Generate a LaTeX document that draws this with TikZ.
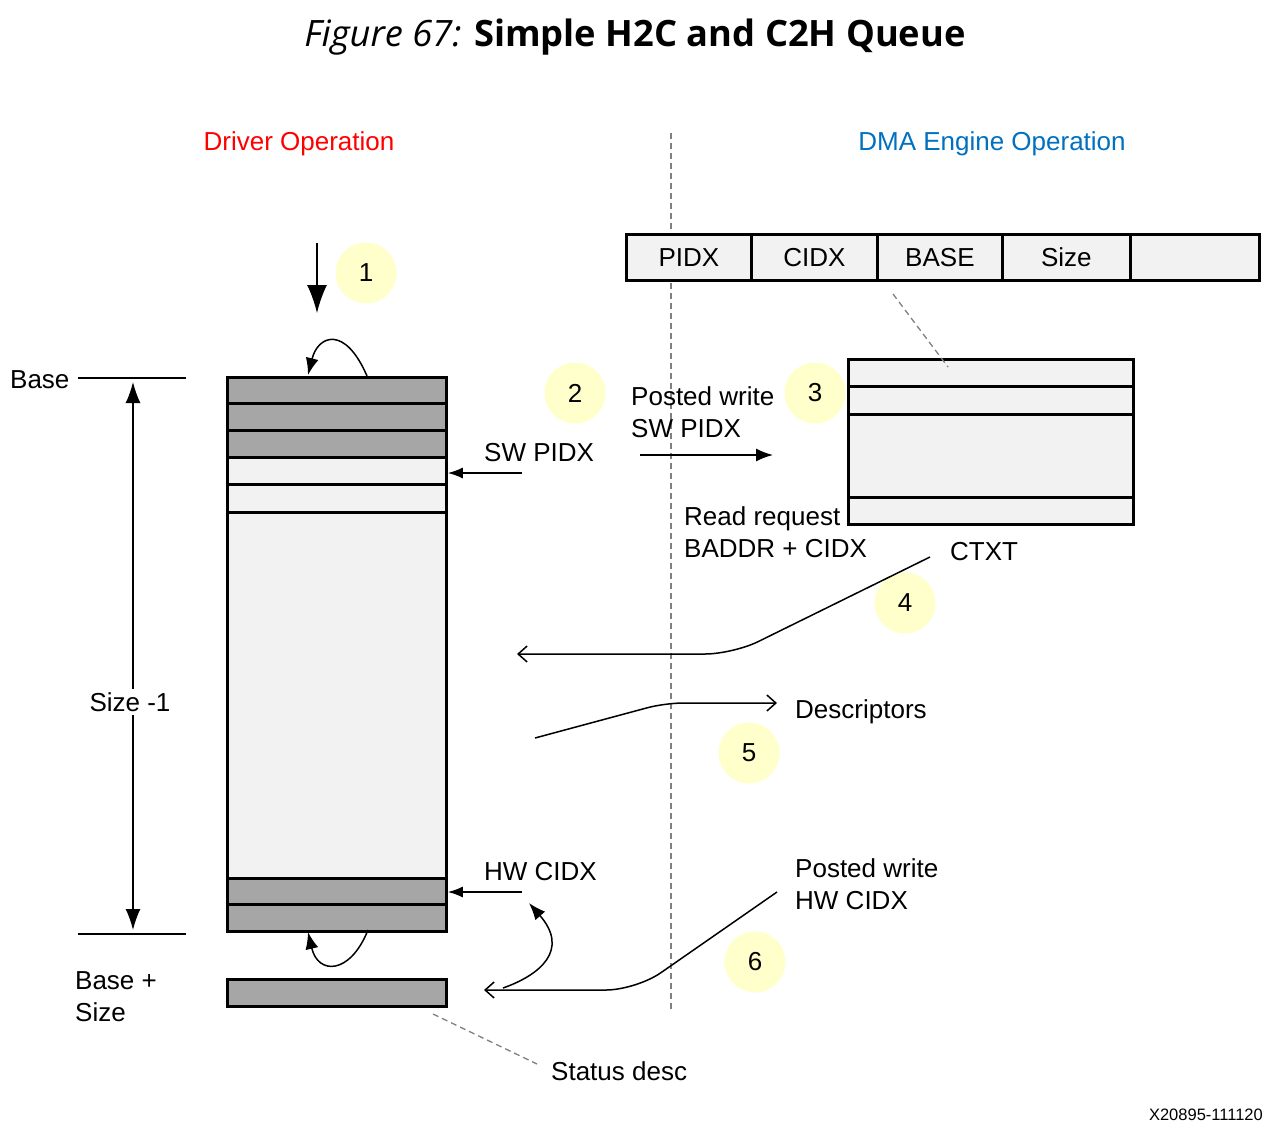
\documentclass[tikz,border=0pt]{standalone}
\usepackage{fontspec}
\setmainfont{Liberation Sans}
\newfontfamily\titlefont{Open Sans}
\usetikzlibrary{arrows.meta}
\definecolor{qgray}{RGB}{166,166,166}
\definecolor{qlight}{RGB}{242,242,242}
\definecolor{bubble}{RGB}{255,255,204}
\definecolor{dmablue}{RGB}{0,112,192}
\definecolor{dashgray}{RGB}{128,128,128}
\begin{document}
\begin{tikzpicture}[x=1pt,y=-1pt,
  cell/.style={draw=black,line width=2.8pt,anchor=north west,inner sep=0pt,minimum width=219pt,font=\fontsize{26}{30}\selectfont},
  lbl/.style={font=\fontsize{26}{30}\selectfont,inner sep=0pt,anchor=base west},
  bub/.style={circle,fill=bubble,minimum size=61pt,inner sep=0pt,font=\fontsize{26}{30}\selectfont},
  thinline/.style={line width=1.5pt},
  bigtip/.style={-{Latex[length=17pt,width=13pt]}},
  hugetip/.style={-{Latex[length=28pt,width=20pt]}},
  opentip/.style={-{Straight Barb[length=9pt,width=16pt]}},
  guide/.style={dashgray,line width=1.3pt,dash pattern=on 6pt off 4pt}
]
\useasboundingbox (0,0) rectangle (1276,1130);

% title
\node[anchor=base,inner sep=0pt,font=\titlefont\fontsize{36.3}{44}\selectfont] (title) at (635,46) {\textit{Figure 67:} \textbf{Simple H2C and C2H Queue}};

% section headings
\node[lbl,anchor=base,text=red] (drv) at (299,150) {Driver Operation};
\node[lbl,anchor=base,text=dmablue] (dma) at (992,150) {DMA Engine Operation};

% divider
\coordinate (divtop) at (671,133);
\coordinate (divbot) at (671,1010);
\draw[guide] (divtop) -- (divbot);

% queue rows
\node[cell,fill=qgray,minimum height=26pt] (q1) at (226,376) {};
\node[cell,fill=qgray,minimum height=27pt] (q2) at (226,402) {};
\node[cell,fill=qgray,minimum height=27pt] (q3) at (226,429) {};
\node[cell,fill=qlight,minimum height=27pt] (q4) at (226,456) {};
\node[cell,fill=qlight,minimum height=28pt] (q5) at (226,483) {};
\node[cell,fill=qlight,minimum height=366pt] (q6) at (226,511) {};
\node[cell,fill=qgray,minimum height=26pt] (q7) at (226,877) {};
\node[cell,fill=qgray,minimum height=27pt] (q8) at (226,903) {};
\node[cell,fill=qgray,minimum height=27pt] (qs) at (226,978) {};

% register
\node[cell,fill=qlight,minimum height=46pt,minimum width=125pt] (rp) at (625,233) {PIDX};
\node[cell,fill=qlight,minimum height=46pt,minimum width=126pt] (rc) at (750,233) {CIDX};
\node[cell,fill=qlight,minimum height=46pt,minimum width=125pt] (rb) at (876,233) {BASE};
\node[cell,fill=qlight,minimum height=46pt,minimum width=128pt] (rs) at (1001,233) {Size};
\node[cell,fill=qlight,minimum height=46pt,minimum width=129pt] (rx) at (1129,233) {};

% context box
\node[cell,fill=qlight,minimum height=27pt,minimum width=285pt] (c1) at (847,358) {};
\node[cell,fill=qlight,minimum height=28pt,minimum width=285pt] (c2) at (847,385) {};
\node[cell,fill=qlight,minimum height=83pt,minimum width=285pt] (c3) at (847,413) {};
\node[cell,fill=qlight,minimum height=27pt,minimum width=285pt] (c4) at (847,496) {};

\coordinate (ctxa) at (893,294);
\coordinate (ctxb) at (948,367);
\draw[guide] (ctxa) -- (ctxb);

% base / size markers
\node[lbl] (base) at (10,388) {Base};
\coordinate (bl1) at (78,378);
\coordinate (bl2) at (186,378);
\coordinate (bl3) at (78,934);
\coordinate (bl4) at (186,934);
\draw[thinline] (bl1) -- (bl2);
\draw[thinline] (bl3) -- (bl4);
\coordinate (sz1) at (133,382);
\coordinate (sz2) at (133,930);
\draw[thinline,{Latex[length=21pt,width=15pt]}-{Latex[length=21pt,width=15pt]}] (sz1) -- (sz2);
\node[lbl,anchor=center,fill=white,inner sep=3pt] (size) at (130,702) {Size -1};
\node[lbl] (bplus) at (75,989) {Base +};
\node[lbl] (bsize) at (75,1021) {Size};

% step 1
\coordinate (a1s) at (317,243);
\coordinate (a1e) at (317,313);
\draw[thinline,hugetip] (a1s) -- (a1e);
\node[bub] (b1) at (366,273) {1};
\coordinate (t1) at (367,376);
\coordinate (t2) at (308,375);
\draw[thinline,bigtip] (t1) .. controls (345,325) and (318,335) .. (t2);

% step 2
\node[bub] (b2) at (575,393) {2};
\node[lbl] (swpidx) at (484,461) {SW PIDX};
\coordinate (sw1) at (522,473);
\draw[thinline,{Latex[length=15pt,width=11pt]}-] (q5.north east |- sw1) -- (sw1);

% step 3
\node[lbl] (pw1) at (631,405) {Posted write};
\node[lbl] (pw2) at (631,437) {SW PIDX};
\node[bub] (b3) at (815,393) {3};
\coordinate (pw3s) at (640,455);
\coordinate (pw3e) at (773,455);
\draw[thinline,bigtip] (pw3s) -- (pw3e);

% step 4
\node[lbl] (rr1) at (684,525) {Read request};
\node[lbl] (rr2) at (684,557) {BADDR + CIDX};
\node[lbl] (ctxt) at (950,560) {CTXT};
\node[bub] (b4) at (905,603) {4};
\coordinate (a4s) at (930,557);
\coordinate (a4c) at (733,654);
\coordinate (a4e) at (517,654);
\draw[thinline,opentip,rounded corners=28pt] (a4s) -- (a4c) -- (a4e);

% step 5
\coordinate (a5s) at (535,738);
\coordinate (a5c) at (665,703);
\coordinate (a5e) at (777,703);
\draw[thinline,opentip,rounded corners=18pt] (a5s) -- (a5c) -- (a5e);
\node[lbl] (desc) at (795,718) {Descriptors};
\node[bub] (b5) at (749,753) {5};

% step 6
\node[lbl] (hwcidx) at (484,880) {HW CIDX};
\coordinate (hw1) at (522,892);
\draw[thinline,{Latex[length=15pt,width=11pt]}-] (q7.north east |- hw1) -- (hw1);
\node[lbl] (pw6a) at (795,877) {Posted write};
\node[lbl] (pw6b) at (795,909) {HW CIDX};
\node[bub] (b6) at (755,962) {6};
\coordinate (a6s) at (777,892);
\coordinate (a6c) at (636,990);
\coordinate (a6e) at (484,990);
\draw[thinline,opentip,rounded corners=30pt] (a6s) -- (a6c) -- (a6e);
\coordinate (cu1) at (503,988);
\coordinate (cu2) at (529,903);
\draw[thinline,bigtip] (cu1) .. controls (540,975) and (570,950) .. (cu2);

% bottom loop
\coordinate (l1) at (368,930);
\coordinate (l2) at (308,932);
\draw[thinline,bigtip] (l1) .. controls (350,975) and (318,975) .. (l2);

% status desc
\coordinate (st1) at (433,1014);
\coordinate (st2) at (537,1064);
\draw[guide] (st1) -- (st2);
\node[lbl] (status) at (551,1080) {Status desc};

% figure id
\node[inner sep=0pt,anchor=base east,font=\fontsize{16.5}{19}\selectfont] (fid) at (1263,1120) {X20895-111120};
\end{tikzpicture}
\end{document}
